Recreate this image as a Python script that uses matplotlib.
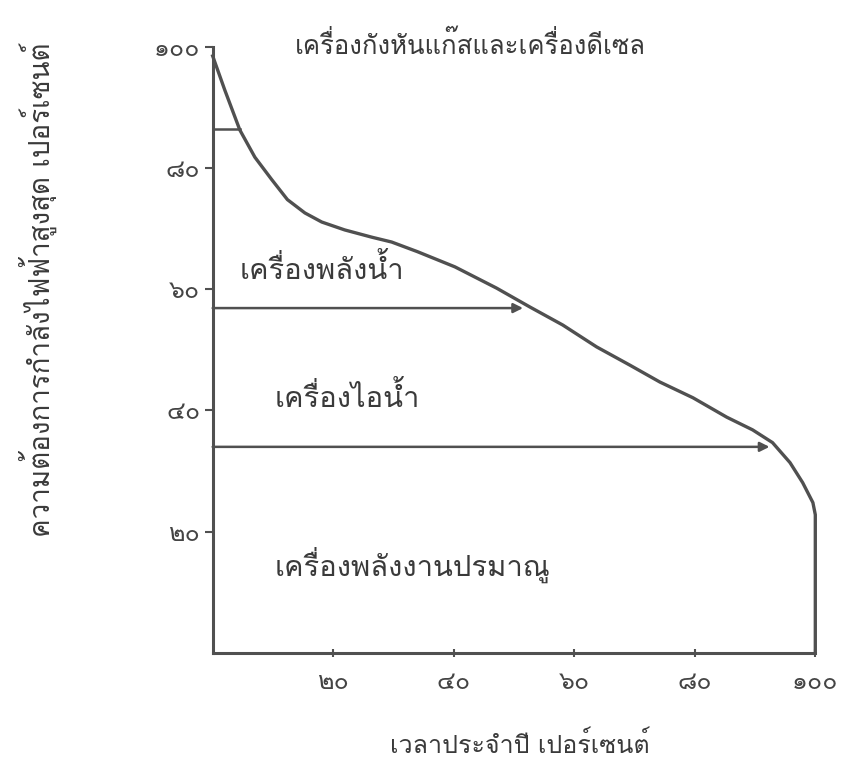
import matplotlib
matplotlib.use("Agg")
import matplotlib.pyplot as plt
from matplotlib import font_manager
from matplotlib.ft2font import FT2Font

# load duration curve (percent of year, percent of peak)
time_pct = [0, 2.0, 4.5, 7.0, 9.8, 12.4, 15.3, 18.1, 21.9, 26.4, 29.7, 34.0,
            40.2, 47.1, 52.6, 58.1, 63.7, 69.2, 74.2, 79.7, 85.3, 89.6, 92.9,
            95.8, 97.9, 99.6, 100, 100]
load_pct = [98.5, 92.9, 86.3, 81.8, 78.1, 74.8, 72.6, 71.1, 69.8, 68.6, 67.8,
            66.2, 63.7, 60.2, 57.1, 54.1, 50.5, 47.5, 44.7, 42.1, 38.9, 36.8,
            34.7, 31.4, 28.1, 24.8, 22.8, 0]

# band boundaries: (level %, x where it meets the curve)
band_levels = [86.4, 56.9, 34.0]
band_ends = [4.5, 51.5, 92.4]
band_arrow = [False, True, True]

band_names = ["เครื่องกังหันแก๊สและเครื่องดีเซล", "เครื่องพลังน้ำ",
              "เครื่องไอน้ำ", "เครื่องพลังงานปรมาณู"]
band_text_xy = [(42.7, 100.3), (4.5, 63.2), (10.3, 42.2), (10.3, 14.5)]
band_text_ha = ["center", "left", "left", "left"]
band_text_size = [18.5, 21, 21, 21]

ticks = [20, 40, 60, 80, 100]
thai_digits = "๐๑๒๓๔๕๖๗๘๙"
tick_labels = ["".join(thai_digits[int(c)] for c in str(t)) for t in ticks]

x_label = "เวลาประจำปี เปอร์เซนต์"
y_label = "ความต้องการกำลังไฟฟ้าสูงสุด เปอร์เซนต์"

# find a font that has Thai glyphs
thai_font = None
for f in font_manager.fontManager.ttflist:
    try:
        cmap = FT2Font(f.fname).get_charmap()
    except Exception:
        continue
    if 0x0E01 in cmap and 0x0E50 in cmap:
        thai_font = f.name
        break
fams = [thai_font, "DejaVu Sans"] if thai_font else ["DejaVu Sans"]
plt.rcParams["font.family"] = fams

ink = "#505050"

fig = plt.figure(figsize=(8.44, 7.69), dpi=100)
ax = fig.add_axes([0.252, 0.151, 0.714, 0.788])

ax.plot(time_pct, load_pct, color=ink, lw=2.4, clip_on=False,
        solid_joinstyle="round")
for lvl, xe, arr in zip(band_levels, band_ends, band_arrow):
    if arr:
        ax.annotate("", xy=(xe, lvl), xytext=(0, lvl),
                    arrowprops=dict(arrowstyle="-|>", color=ink, lw=1.8,
                                    mutation_scale=14, shrinkA=0, shrinkB=0))
    else:
        ax.plot([0, xe], [lvl, lvl], color=ink, lw=1.8)

for name, (tx, ty), ha, fs in zip(band_names, band_text_xy, band_text_ha,
                                  band_text_size):
    ax.text(tx, ty, name, ha=ha, va="center", fontsize=fs, color="#3a3a3a")

ax.set_xlim(0, 100)
ax.set_ylim(0, 100)
ax.set_xticks(ticks)
ax.set_xticklabels(tick_labels)
ax.set_yticks(ticks)
ax.set_yticklabels(tick_labels)
ax.tick_params(axis="both", colors=ink, labelcolor="#444444", labelsize=18,
               width=1.5, length=6)
ax.tick_params(axis="x", direction="inout", pad=10)
ax.tick_params(axis="y", direction="out", pad=3)
for s in ["top", "right"]:
    ax.spines[s].set_visible(False)
for s in ["left", "bottom"]:
    ax.spines[s].set_color(ink)
    ax.spines[s].set_linewidth(2.2)

fig.text(0.616, 0.031, x_label, ha="center", va="center", fontsize=18,
         color="#3a3a3a")
fig.text(0.045, 0.623, y_label, ha="center", va="center", fontsize=20,
         rotation=90, color="#3a3a3a")

fig.savefig("out.png", dpi=100)
